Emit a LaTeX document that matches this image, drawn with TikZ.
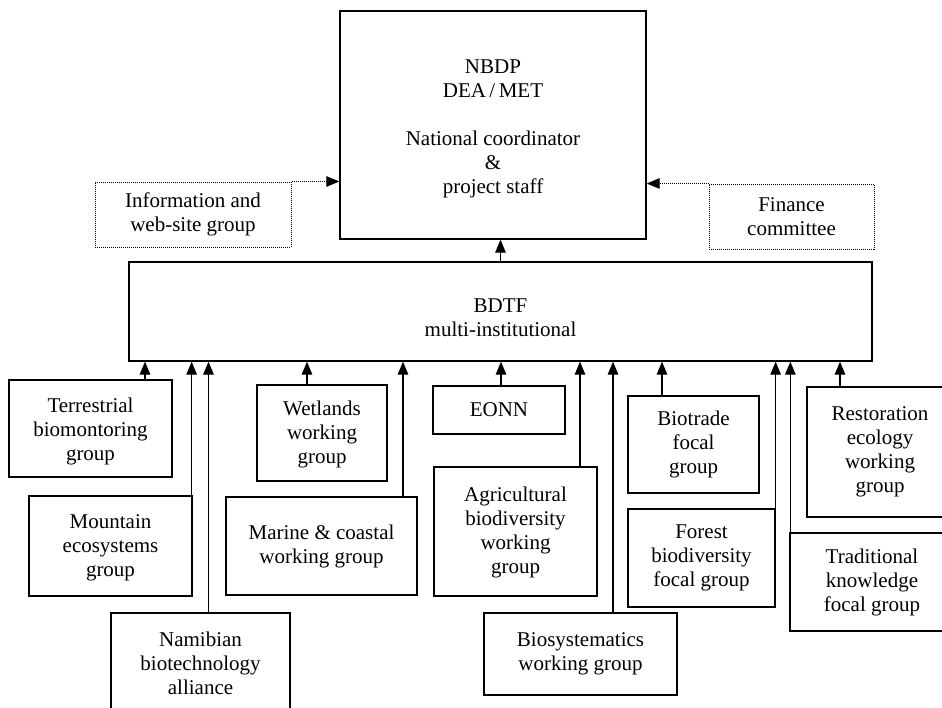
\documentclass[tikz,border=0pt]{standalone}
\usepackage{fontspec}
\setmainfont{Liberation Serif}
\usetikzlibrary{arrows.meta}
\newcommand\upstrut[1]{\rule{0pt}{#1}}
\begin{document}
\begin{tikzpicture}[x=1pt,y=-1pt,
 gbox/.style={draw, line width=1.3pt, rectangle, inner sep=0pt, align=center, font=\fontsize{21}{24}\selectfont},
 dbox/.style={gbox, line width=1pt, dash pattern=on 1pt off 1pt},
 arr/.style={line width=1.3pt, -{Triangle[length=13pt,width=10.5pt]}},
 darr/.style={line width=1pt, dash pattern=on 1pt off 1pt, -{Triangle[length=13pt,width=10.5pt]}}]
\useasboundingbox (0,0) rectangle (942,707);
\fill[white] (0,0) rectangle (942,707);
\clip (0,0) rectangle (942,707);
% top level
\node[gbox, minimum width=306pt, minimum height=228pt] (top) at (493,125) {\upstrut{22pt}NBDP\\DEA\,/\,MET\\[24pt]National coordinator\\\&\\project staff};
\node[dbox, minimum width=196pt, minimum height=65pt] (info) at (193,214.5) {Information and\\web-site group};
\node[dbox, minimum width=165pt, minimum height=65pt] (fin) at (791.5,216.5) {Finance\\committee};
\node[gbox, minimum width=743pt, minimum height=99pt] (bdtf) at (500.5,311.5) {\upstrut{26pt}BDTF\\multi-institutional};
% groups
\node[gbox, minimum width=163pt, minimum height=97pt] (terr) at (90.5,428.5) {\upstrut{20pt}Terrestrial\\biomontoring\\group};
\node[gbox, minimum width=163pt, minimum height=100pt] (mount) at (110.5,546) {\upstrut{18pt}Mountain\\ecosystems\\group};
\node[gbox, minimum width=179pt, minimum height=100pt] (namib) at (200.5,663) {Namibian\\biotechnology\\alliance};
\node[gbox, minimum width=130pt, minimum height=96pt] (wet) at (322,433) {\upstrut{17pt}Wetlands\\working\\group};
\node[gbox, minimum width=191pt, minimum height=98pt] (marine) at (321.5,546) {Marine \& coastal\\working group};
\node[gbox, minimum width=132pt, minimum height=48pt] (eonn) at (499,410) {EONN};
\node[gbox, minimum width=163pt, minimum height=129pt] (agri) at (515.5,531.5) {\upstrut{17pt}Agricultural\\biodiversity\\working\\group};
\node[gbox, minimum width=193pt, minimum height=82pt] (bios) at (580.5,654) {Biosystematics\\working group};
\node[gbox, minimum width=131pt, minimum height=97pt] (biot) at (693.5,444.5) {Biotrade\\focal\\group};
\node[gbox, minimum width=147pt, minimum height=98pt] (forest) at (701.5,558) {Forest\\biodiversity\\focal group};
\node[gbox, minimum width=164pt, minimum height=98pt] (trad) at (872,582) {Traditional\\knowledge\\focal group};
\node[gbox, minimum width=146pt, minimum height=130pt] (rest) at (880,452) {Restoration\\ecology\\working\\group};
% connectors to top
\draw[arr] (bdtf.north) -- (bdtf.north |- top.south);
\draw[darr] (info.north east) -- (info.north east -| top.west);
\draw[darr] (fin.north west) -- (fin.north west -| top.east);
% connectors to BDTF
\draw[arr] ([xshift=54.5pt]terr.north) -- ([xshift=54.5pt]terr.north |- bdtf.south);
\draw[arr] ([xshift=-1pt]mount.north east) -- ([xshift=-1pt]mount.north east |- bdtf.south);
\draw[arr] ([xshift=8pt]namib.north) -- ([xshift=8pt]namib.north |- bdtf.south);
\draw[arr] ([xshift=-15pt]wet.north) -- ([xshift=-15pt]wet.north |- bdtf.south);
\draw[arr] ([xshift=81.5pt]marine.north) -- ([xshift=81.5pt]marine.north |- bdtf.south);
\draw[arr] ([xshift=2pt]eonn.north) -- ([xshift=2pt]eonn.north |- bdtf.south);
\draw[arr] ([xshift=64.5pt]agri.north) -- ([xshift=64.5pt]agri.north |- bdtf.south);
\draw[arr] ([xshift=32.5pt]bios.north) -- ([xshift=32.5pt]bios.north |- bdtf.south);
\draw[arr] ([xshift=-31.5pt]biot.north) -- ([xshift=-31.5pt]biot.north |- bdtf.south);
\draw[arr] (forest.north east) -- (forest.north east |- bdtf.south);
\draw[arr] ([xshift=1pt]trad.north west) -- ([xshift=1pt]trad.north west |- bdtf.south);
\draw[arr] ([xshift=-40pt]rest.north) -- ([xshift=-40pt]rest.north |- bdtf.south);
\end{tikzpicture}
\end{document}
